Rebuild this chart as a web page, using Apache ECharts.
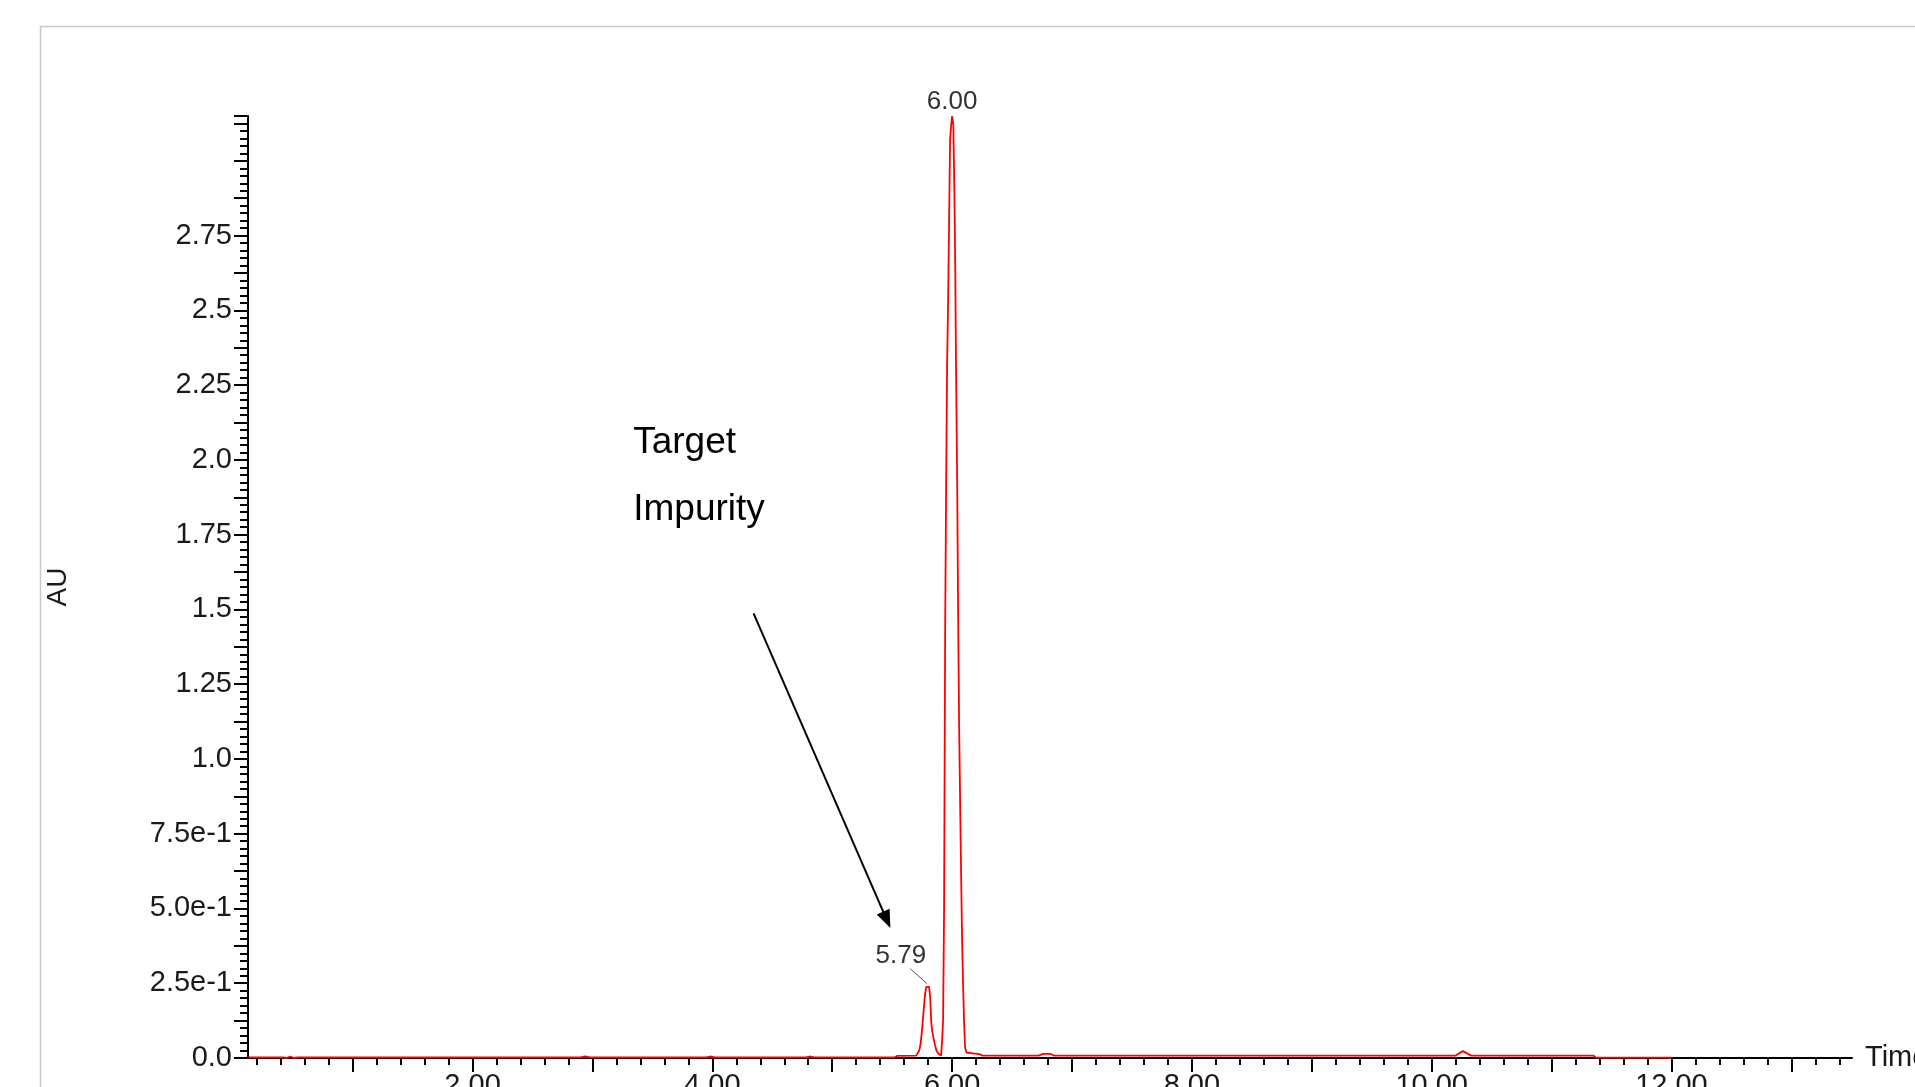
<!DOCTYPE html>
<html>
<head>
<meta charset="utf-8">
<style>
html,body{margin:0;padding:0;background:#fff;overflow:hidden;}
#chart{width:1915px;height:1087px;}
</style>
<script src="https://cdn.jsdelivr.net/npm/echarts@6/dist/echarts.min.js"></script>
</head>
<body>
<div id="chart"></div>
<script>
// ---- data ----
const timeMin = [
  0.13, 0.42, 0.45, 0.48, 0.51, 0.54, 1.50, 2.90, 2.94, 2.98,
  3.95, 3.98, 4.02, 4.78, 4.81, 4.85, 5.52, 5.54, 5.70,
  5.712, 5.726, 5.738, 5.748, 5.757, 5.766, 5.775, 5.785, 5.795, 5.808,
  5.818, 5.826, 5.834, 5.846, 5.858, 5.870, 5.885, 5.898, 5.908,
  5.917, 5.925, 5.933, 5.942, 5.950, 5.958, 5.967, 5.975, 5.983, 5.992,
  6.000, 6.010, 6.019, 6.026, 6.033, 6.042, 6.050, 6.058, 6.067, 6.075,
  6.083, 6.092, 6.100, 6.108, 6.120, 6.135, 6.230, 6.250,
  6.72, 6.76, 6.82, 6.85, 10.20, 10.26, 10.33, 11.35, 11.37, 12.00
];
const absorbanceAU = [
  0.002, 0.002, 0.000, 0.005, 0.000, 0.002, 0.002, 0.002, 0.005, 0.002,
  0.002, 0.005, 0.002, 0.002, 0.005, 0.002, 0.002, 0.007, 0.008,
  0.010, 0.025, 0.050, 0.090, 0.130, 0.175, 0.215, 0.238, 0.243, 0.238,
  0.200, 0.120, 0.090, 0.065, 0.042, 0.024, 0.015, 0.011, 0.008,
  0.060, 0.130, 0.500, 1.430, 1.900, 2.310, 2.540, 2.800, 3.070, 3.120,
  3.150, 3.120, 2.900, 2.650, 2.300, 1.940, 1.500, 1.130, 0.850, 0.620,
  0.400, 0.237, 0.120, 0.036, 0.018, 0.014, 0.013, 0.008,
  0.008, 0.014, 0.014, 0.008, 0.008, 0.023, 0.008, 0.008, 0.001, 0.001
];

// peak annotations
const peakTimes = [6.00, 5.79];
const peakHeights = [3.15, 0.243];
const peakLabels = ['6.00', '5.79'];

// axis tick labels
const yLabelValues = [0, 0.25, 0.5, 0.75, 1.0, 1.25, 1.5, 1.75, 2.0, 2.25, 2.5, 2.75];
const yLabelTexts = ['0.0', '2.5e-1', '5.0e-1', '7.5e-1', '1.0', '1.25', '1.5', '1.75', '2.0', '2.25', '2.5', '2.75'];
const xLabelValues = [2, 4, 6, 8, 10, 12];
const xLabelTexts = ['2.00', '4.00', '6.00', '8.00', '10.00', '12.00'];
const xMajorTicks = [1, 2, 3, 4, 5, 6, 7, 8, 9, 10, 11, 12, 13];

// ---- build ----
const seriesData = timeMin.map((t, i) => [t, absorbanceAU[i]]);
const xMinorTicks = [];
for (let k = 1; k <= 67; k++) {
  const v = Math.round(k * 0.2 * 1000) / 1000;
  if (Math.abs(v - Math.round(v)) > 1e-6) xMinorTicks.push(v);
}

const X_MIN = 0.127, X_MAX = 13.506, Y_MAX = 3.15;
const FONT = '"Liberation Sans", Arial, sans-serif';
const TXT = '#1a1a1a';

const chart = echarts.init(document.getElementById('chart'), null, {renderer: 'canvas'});
chart.setOption({
  animation: false,
  backgroundColor: '#ffffff',
  graphic: [{
    type: 'rect', silent: true, z: -10,
    shape: {x: 40.5, y: 26.5, width: 4000, height: 4000},
    style: {fill: 'none', stroke: '#c8c8c8', lineWidth: 1.5}
  }],
  grid: {left: 248, right: 63, top: 116, bottom: 29, containLabel: false, outerBoundsMode: 'none'},
  xAxis: [{
    type: 'value', min: X_MIN, max: X_MAX, position: 'bottom',
    name: 'Time', nameLocation: 'end', nameGap: 13,
    nameTextStyle: {fontSize: 29, color: TXT, fontFamily: FONT, align: 'left', verticalAlign: 'middle'},
    axisLine: {show: true, onZero: false, lineStyle: {color: '#000', width: 2}},
    axisTick: {show: true, customValues: xMajorTicks, length: 14, lineStyle: {color: '#000', width: 2}},
    axisLabel: {show: true, customValues: xLabelValues, margin: 13, fontSize: 29, color: TXT, fontFamily: FONT,
      hideOverlap: false,
      formatter: v => { const i = xLabelValues.findIndex(x => Math.abs(x - v) < 1e-6); return i >= 0 ? xLabelTexts[i] : ''; }},
    splitLine: {show: false}
  }, {
    type: 'value', min: X_MIN, max: X_MAX, position: 'bottom',
    axisLine: {show: false, onZero: false},
    axisTick: {show: true, customValues: xMinorTicks, length: 7, lineStyle: {color: '#000', width: 2}},
    axisLabel: {show: false},
    splitLine: {show: false}
  }],
  yAxis: [{
    type: 'value', min: 0, max: Y_MAX, interval: 0.125, position: 'left',
    name: 'AU', nameLocation: 'middle', nameGap: 176, nameRotate: 90,
    nameTextStyle: {fontSize: 28, color: TXT, fontFamily: FONT},
    axisLine: {show: true, onZero: false, lineStyle: {color: '#000', width: 2}},
    axisTick: {show: true, length: 14, lineStyle: {color: '#000', width: 2}},
    axisLabel: {show: true, margin: 16, fontSize: 29, color: TXT, fontFamily: FONT,
      showMinLabel: true, showMaxLabel: true,
      formatter: v => { const i = yLabelValues.findIndex(x => Math.abs(x - v) < 1e-6); return i >= 0 ? yLabelTexts[i] : ''; }},
    splitLine: {show: false}
  }, {
    type: 'value', min: 0, max: Y_MAX, interval: 0.025, position: 'left', offset: 0,
    axisLine: {show: false, onZero: false},
    axisTick: {show: true, length: 8, lineStyle: {color: '#000', width: 2}},
    axisLabel: {show: false},
    splitLine: {show: false}
  }],
  series: [{
    type: 'line',
    xAxisIndex: 0, yAxisIndex: 0,
    data: seriesData,
    showSymbol: false, symbol: 'none',
    sampling: 'none',
    lineStyle: {color: '#ff0000', width: 1.8},
    z: 5,
    silent: true,
    markPoint: {
      silent: true,
      symbol: 'circle', symbolSize: 1,
      itemStyle: {color: 'rgba(0,0,0,0)'},
      data: [
        {coord: [peakTimes[0], peakHeights[0]],
         label: {show: true, formatter: peakLabels[0], position: 'top', distance: 1,
           fontSize: 26, color: '#333', fontFamily: FONT}},
        {coord: [5.573, 0.343],
         label: {show: true, formatter: peakLabels[1], position: 'inside',
           fontSize: 26, color: '#333', fontFamily: FONT}},
        {coord: [3.336, 2.058],
         label: {show: true, formatter: 'Target', position: 'right', distance: 0,
           fontSize: 37, color: '#000', fontFamily: FONT}},
        {coord: [3.336, 1.834],
         label: {show: true, formatter: 'Impurity', position: 'right', distance: 0,
           fontSize: 37, color: '#000', fontFamily: FONT}}
      ]
    },
    markLine: {
      silent: true,
      animation: false,
      label: {show: false},
      data: [
        [{coord: [4.344, 1.487], symbol: 'none', lineStyle: {color: '#000', width: 2, type: 'solid'}},
         {coord: [5.455, 0.462], symbol: 'triangle', symbolSize: [14, 18]}],
        [{coord: [5.650, 0.299], symbol: 'none', lineStyle: {color: '#555', width: 1, type: 'solid'}},
         {coord: [peakTimes[1], peakHeights[1] + 0.006], symbol: 'none'}]
      ]
    }
  }]
});
</script>
</body>
</html>
